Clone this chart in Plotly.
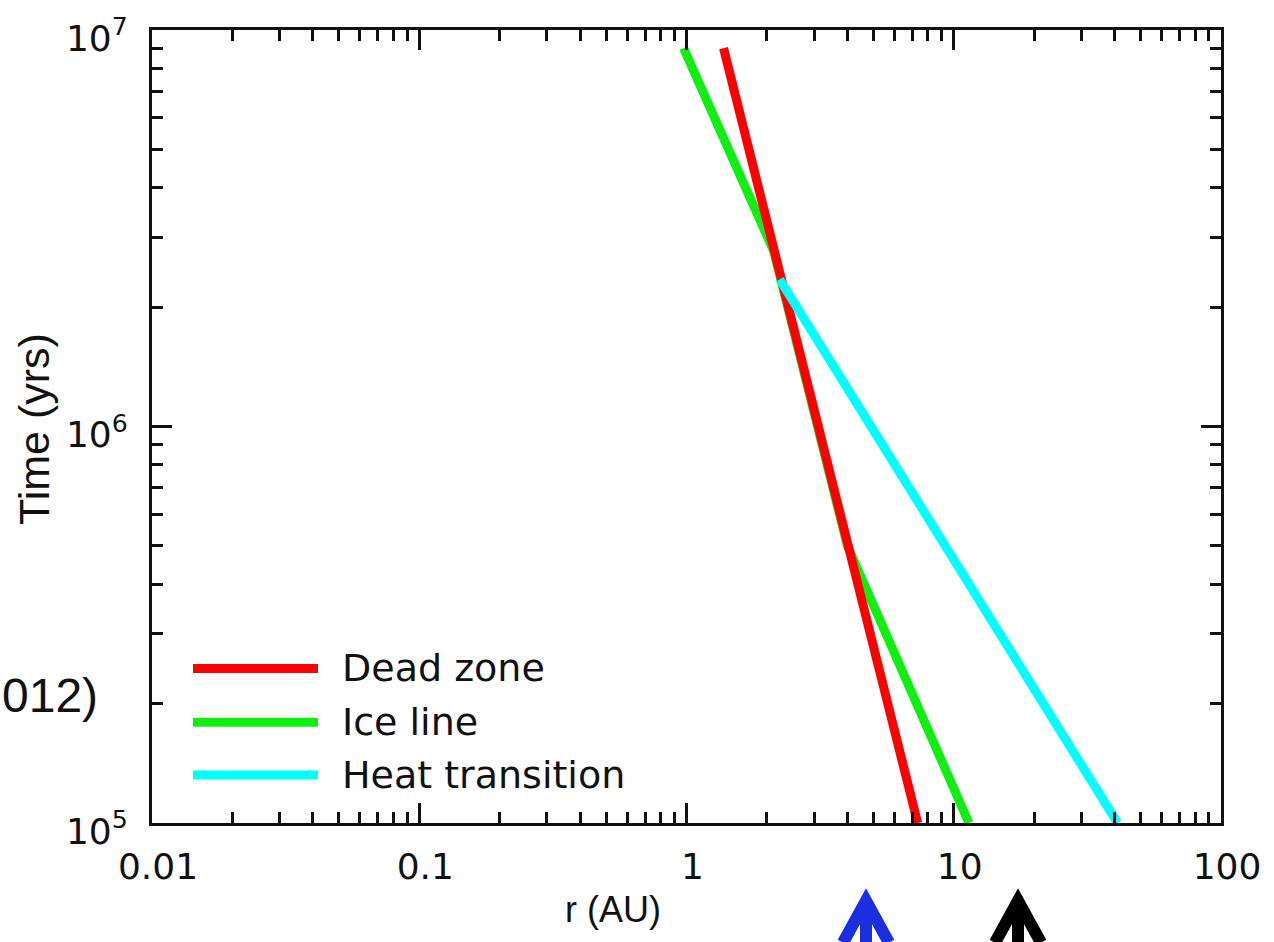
import plotly.graph_objects as go

# Transition radii (AU) versus disc age (yr)
dead_zone_r = [1.376, 7.33]
dead_zone_t = [9.0e6, 1.0e5]

ice_line_r = [0.975, 2.12, 4.0, 11.4]
ice_line_t = [9.0e6, 2.77e6, 5.0e5, 1.0e5]

heat_tr_r = [2.23, 41.0]
heat_tr_t = [2.35e6, 1.0e5]

series = [
    ("Ice line", ice_line_r, ice_line_t, "#11ee11"),
    ("Dead zone", dead_zone_r, dead_zone_t, "#ff0000"),
    ("Heat transition", heat_tr_r, heat_tr_t, "#00ffff"),
]
legend_order = ["Dead zone", "Ice line", "Heat transition"]

x_ticks = [0.01, 0.1, 1, 10, 100]
x_ticktext = ["0.01", "0.1", "1", "10", "100"]
y_ticks = [1e5, 1e6, 1e7]
y_ticktext = ["10<sup>5</sup>", "10<sup>6</sup>", "10<sup>7</sup>"]

W, H = 1274, 942
L, R, T, B = 152, 1221, 28, 823


def px(x):
    return (x - L) / (R - L)


def py(y):
    return (B - y) / (B - T)


fig = go.Figure()
for name, r, t, c in series:
    fig.add_trace(go.Scatter(x=r, y=t, mode="lines", name=name,
                             line=dict(color=c, width=9), showlegend=False))

minor_x = [m * 10 ** e for e in range(-2, 2) for m in range(2, 10)]
minor_y = [m * 10 ** e for e in range(5, 7) for m in range(2, 10)]

axis_common = dict(
    type="log", showgrid=False, zeroline=False,
    showline=True, linecolor="#111", linewidth=3, mirror="allticks",
    ticks="inside", ticklen=20, tickwidth=2.5, tickcolor="#111",
    tickfont=dict(family="DejaVu Sans", size=36, color="#111"),
)

fig.update_xaxes(**axis_common, range=[-2, 2], tickmode="array",
                 tickvals=x_ticks, ticktext=x_ticktext, ticklabelstandoff=10,
                 ticklabelshift=6,
                 minor=dict(tickmode="array", tickvals=minor_x, ticks="inside",
                            ticklen=11, tickwidth=2.5, tickcolor="#111", showgrid=False))
fig.update_yaxes(**axis_common, range=[5, 7], tickmode="array",
                 tickvals=y_ticks, ticktext=y_ticktext, ticklabelstandoff=14,
                 ticklabelshift=8,
                 minor=dict(tickmode="array", tickvals=minor_y, ticks="inside",
                            ticklen=11, tickwidth=2.5, tickcolor="#111", showgrid=False))

shapes = []
annotations = []


def label(text, x, y, size, family, anchor="center", angle=0):
    annotations.append(dict(text=text, xref="paper", yref="paper",
                            x=px(x), y=py(y), xanchor=anchor, yanchor="middle",
                            textangle=angle, showarrow=False,
                            font=dict(family=family, size=size, color="#111")))


# Legend drawn with long sample lines
colors = {n: c for n, _, _, c in series}
for name, ly in zip(legend_order, [668, 722, 775]):
    shapes.append(dict(type="line", xref="paper", yref="paper",
                       x0=px(193), x1=px(318), y0=py(ly), y1=py(ly),
                       line=dict(color=colors[name], width=9)))
    label(name, 340, ly, 38, "DejaVu Sans", anchor="left")

# Axis titles
label("r (AU)", 613, 910, 36, "Liberation Sans")
label("Time (yrs)", 34, 428, 43, "Liberation Sans", angle=-90)

# Partial citation text at the left edge
label("012)", 0, 695, 48, "Liberation Sans", anchor="left")

# Upward arrows below the axis
for ax_px, col in [(866, "#1b2ee0"), (1018, "#000000")]:
    tip_y = 901
    path = (f"M {px(ax_px - 23)},{py(tip_y + 42)} L {px(ax_px)},{py(tip_y)} "
            f"L {px(ax_px + 23)},{py(tip_y + 42)} M {px(ax_px)},{py(tip_y + 4)} "
            f"L {px(ax_px)},{py(H + 10)}")
    shapes.append(dict(type="path", xref="paper", yref="paper", path=path,
                       line=dict(color=col, width=12)))

fig.update_layout(
    width=W, height=H,
    margin=dict(l=L, r=W - R, t=T, b=H - B),
    paper_bgcolor="white", plot_bgcolor="white",
    shapes=shapes, annotations=annotations,
)

fig.write_html("out.html")
